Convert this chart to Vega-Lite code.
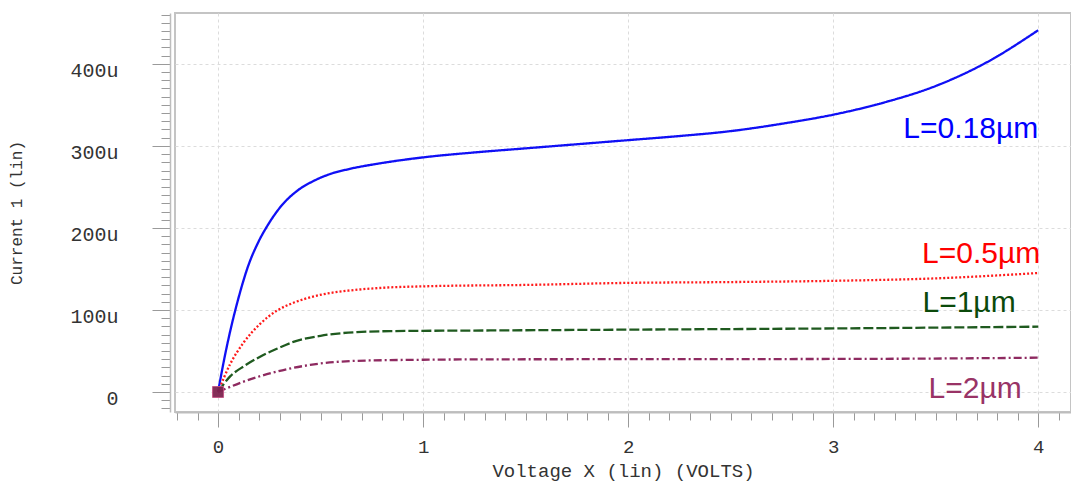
{
  "$schema": "https://vega.github.io/schema/vega-lite/v6.json",
  "width": 896,
  "height": 399,
  "autosize": {"type": "none"},
  "padding": {"left": 175, "top": 13, "right": 0, "bottom": 71},
  "background": "white",
  "config": {
    "view": {"stroke": "#c4c4c4", "strokeWidth": 2},
    "axis": {
      "labelFont": "Liberation Mono",
      "titleFont": "Liberation Mono",
      "labelColor": "#333333",
      "titleColor": "#333333",
      "titleFontWeight": "normal",
      "tickColor": "#9a9a9a",
      "domainColor": "#bdbdbd",
      "gridColor": "#dcdcdc",
      "gridDash": [3, 3]
    }
  },
  "datasets": {
    "curves": [
      {"v": 0, "i": 0, "s": "L=0.18µm"},
      {"v": 0.03, "i": 40, "s": "L=0.18µm"},
      {"v": 0.06, "i": 75, "s": "L=0.18µm"},
      {"v": 0.098, "i": 113, "s": "L=0.18µm"},
      {"v": 0.146, "i": 153, "s": "L=0.18µm"},
      {"v": 0.195, "i": 182, "s": "L=0.18µm"},
      {"v": 0.244, "i": 204, "s": "L=0.18µm"},
      {"v": 0.309, "i": 227, "s": "L=0.18µm"},
      {"v": 0.39, "i": 246, "s": "L=0.18µm"},
      {"v": 0.472, "i": 258, "s": "L=0.18µm"},
      {"v": 0.55, "i": 266, "s": "L=0.18µm"},
      {"v": 0.634, "i": 271.5, "s": "L=0.18µm"},
      {"v": 0.797, "i": 279, "s": "L=0.18µm"},
      {"v": 1.0, "i": 286, "s": "L=0.18µm"},
      {"v": 1.25, "i": 292, "s": "L=0.18µm"},
      {"v": 1.5, "i": 297, "s": "L=0.18µm"},
      {"v": 1.75, "i": 302, "s": "L=0.18µm"},
      {"v": 2.0, "i": 307, "s": "L=0.18µm"},
      {"v": 2.25, "i": 312, "s": "L=0.18µm"},
      {"v": 2.5, "i": 318, "s": "L=0.18µm"},
      {"v": 2.75, "i": 327, "s": "L=0.18µm"},
      {"v": 3.0, "i": 338, "s": "L=0.18µm"},
      {"v": 3.25, "i": 353, "s": "L=0.18µm"},
      {"v": 3.5, "i": 373, "s": "L=0.18µm"},
      {"v": 3.75, "i": 402, "s": "L=0.18µm"},
      {"v": 4.0, "i": 441, "s": "L=0.18µm"},

      {"v": 0, "i": 0, "s": "L=0.5µm"},
      {"v": 0.059, "i": 34, "s": "L=0.5µm"},
      {"v": 0.124, "i": 60, "s": "L=0.5µm"},
      {"v": 0.205, "i": 83, "s": "L=0.5µm"},
      {"v": 0.286, "i": 99, "s": "L=0.5µm"},
      {"v": 0.36, "i": 108, "s": "L=0.5µm"},
      {"v": 0.423, "i": 113.5, "s": "L=0.5µm"},
      {"v": 0.51, "i": 119, "s": "L=0.5µm"},
      {"v": 0.634, "i": 123.5, "s": "L=0.5µm"},
      {"v": 0.8, "i": 127, "s": "L=0.5µm"},
      {"v": 1.04, "i": 129, "s": "L=0.5µm"},
      {"v": 1.5, "i": 130.5, "s": "L=0.5µm"},
      {"v": 2.0, "i": 133, "s": "L=0.5µm"},
      {"v": 2.5, "i": 134, "s": "L=0.5µm"},
      {"v": 3.0, "i": 135.5, "s": "L=0.5µm"},
      {"v": 3.5, "i": 138.5, "s": "L=0.5µm"},
      {"v": 4.0, "i": 145, "s": "L=0.5µm"},

      {"v": 0, "i": 0, "s": "L=1µm"},
      {"v": 0.059, "i": 19, "s": "L=1µm"},
      {"v": 0.13, "i": 32, "s": "L=1µm"},
      {"v": 0.205, "i": 43, "s": "L=1µm"},
      {"v": 0.29, "i": 53, "s": "L=1µm"},
      {"v": 0.367, "i": 61, "s": "L=1µm"},
      {"v": 0.5, "i": 68.5, "s": "L=1µm"},
      {"v": 0.677, "i": 73, "s": "L=1µm"},
      {"v": 0.84, "i": 74.2, "s": "L=1µm"},
      {"v": 1.33, "i": 75, "s": "L=1µm"},
      {"v": 2.0, "i": 76, "s": "L=1µm"},
      {"v": 3.08, "i": 77.6, "s": "L=1µm"},
      {"v": 4.0, "i": 79.6, "s": "L=1µm"},

      {"v": 0, "i": 0, "s": "L=2µm"},
      {"v": 0.124, "i": 12.6, "s": "L=2µm"},
      {"v": 0.286, "i": 24.8, "s": "L=2µm"},
      {"v": 0.449, "i": 33, "s": "L=2µm"},
      {"v": 0.677, "i": 38, "s": "L=2µm"},
      {"v": 1.0, "i": 39.3, "s": "L=2µm"},
      {"v": 1.33, "i": 39.8, "s": "L=2µm"},
      {"v": 2.0, "i": 40, "s": "L=2µm"},
      {"v": 3.08, "i": 40.3, "s": "L=2µm"},
      {"v": 4.0, "i": 41.8, "s": "L=2µm"}
    ],
    "labels": [
      {"v": 4.0, "i": 310, "s": "L=0.18µm"},
      {"v": 4.01, "i": 157, "s": "L=0.5µm"},
      {"v": 3.89, "i": 97.5, "s": "L=1µm"},
      {"v": 3.92, "i": -7.5, "s": "L=2µm"}
    ],
    "origin": [{"v": 0, "i": 0}]
  },
  "encoding": {
    "x": {
      "field": "v",
      "type": "quantitative",
      "scale": {"domain": [-0.21, 4.16], "nice": false, "zero": false},
      "axis": {
        "title": "Voltage X (lin) (VOLTS)",
        "titleFontSize": 19,
        "titlePadding": 5,
        "labelFontSize": 19,
        "labelPadding": 10,
        "values": [-0.2,-0.1,0,0.1,0.2,0.3,0.4,0.5,0.6,0.7,0.8,0.9,1,1.1,1.2,1.3,1.4,1.5,1.6,1.7,1.8,1.9,2,2.1,2.2,2.3,2.4,2.5,2.6,2.7,2.8,2.9,3,3.1,3.2,3.3,3.4,3.5,3.6,3.7,3.8,3.9,4,4.1],
        "labelExpr": "abs(datum.value - round(datum.value)) < 0.001 ? format(round(datum.value), 'd') : ''",
        "tickSize": {"condition": {"test": "abs(datum.value - round(datum.value)) < 0.001", "value": 15}, "value": 8},
        "gridOpacity": {"condition": {"test": "abs(datum.value - round(datum.value)) < 0.001", "value": 1}, "value": 0},
        "labelOverlap": false,
        "offset": 0,
        "domainWidth": 2
      }
    },
    "y": {
      "field": "i",
      "type": "quantitative",
      "scale": {"domain": [-24.4, 462], "nice": false, "zero": false},
      "axis": {
        "title": "Current 1 (lin)",
        "titleFontSize": 16,
        "titlePadding": 45,
        "labelFontSize": 20,
        "labelPadding": 34,
        "labelOffset": 7,
        "values": [-20,-10,0,10,20,30,40,50,60,70,80,90,100,110,120,130,140,150,160,170,180,190,200,210,220,230,240,250,260,270,280,290,300,310,320,330,340,350,360,370,380,390,400,410,420,430,440,450,460],
        "labelExpr": "datum.value % 100 === 0 ? (datum.value === 0 ? '0' : datum.value + 'u') : ''",
        "tickSize": {"condition": {"test": "datum.value % 100 === 0", "value": 18}, "value": 9},
        "gridOpacity": {"condition": {"test": "datum.value % 100 === 0", "value": 1}, "value": 0},
        "labelOverlap": false,
        "offset": 5,
        "domainWidth": 1.5
      }
    }
  },
  "layer": [
    {
      "data": {"name": "curves"},
      "mark": {"type": "line", "interpolate": "monotone", "strokeWidth": 2.3},
      "encoding": {
        "color": {
          "field": "s",
          "type": "nominal",
          "scale": {"domain": ["L=0.18µm", "L=0.5µm", "L=1µm", "L=2µm"], "range": ["#1010f5", "#ff1a1a", "#1f5a1f", "#8e2a60"]},
          "legend": null
        },
        "strokeDash": {
          "field": "s",
          "type": "nominal",
          "scale": {"domain": ["L=0.18µm", "L=0.5µm", "L=1µm", "L=2µm"], "range": [[1, 0], [2, 2], [10, 3], [8, 3, 2, 3]]},
          "legend": null
        }
      }
    },
    {
      "data": {"name": "origin"},
      "mark": {"type": "point", "shape": "square", "size": 120, "filled": true, "fill": "#7d2450", "stroke": "#c05080", "strokeWidth": 1, "opacity": 0.95}
    },
    {
      "data": {"name": "labels"},
      "mark": {"type": "text", "align": "right", "baseline": "alphabetic", "font": "Liberation Sans", "fontSize": 30},
      "encoding": {
        "text": {"field": "s", "type": "nominal"},
        "color": {
          "field": "s",
          "type": "nominal",
          "scale": {"domain": ["L=0.18µm", "L=0.5µm", "L=1µm", "L=2µm"], "range": ["#0000ff", "#ff0000", "#0b4a0b", "#993366"]},
          "legend": null
        }
      }
    }
  ],
  "resolve": {"scale": {"color": "independent"}}
}
